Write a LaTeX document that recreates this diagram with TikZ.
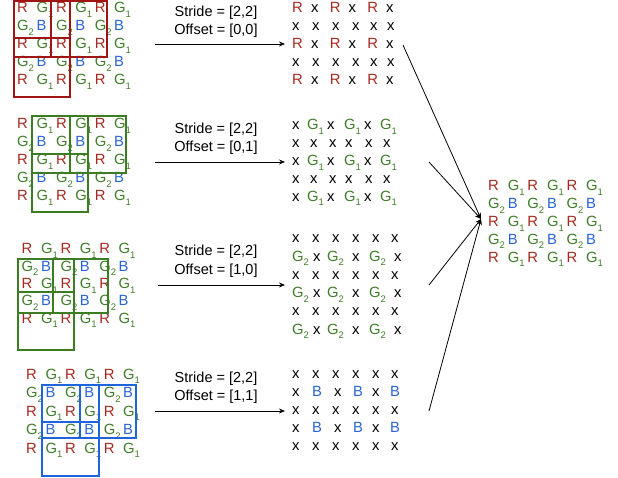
\documentclass[tikz,border=0pt]{standalone}
\usepackage{fontspec}
\setmainfont{Liberation Sans}
\usetikzlibrary{arrows.meta}
\definecolor{rl}{RGB}{166,40,30}
\definecolor{gl}{RGB}{62,125,40}
\definecolor{bl}{RGB}{40,100,215}
\definecolor{rbx}{RGB}{160,20,20}
\definecolor{gbx}{RGB}{60,125,35}
\definecolor{bbx}{RGB}{30,100,220}
\newcommand\lsub[1]{\raisebox{-4.5pt}{\fontsize{9.5}{9.5}\selectfont #1}}
\newcommand\gone{G\lsub{1}}
\newcommand\gtwo{G\lsub{2}}
\tikzset{
  cell/.style={inner sep=0pt, anchor=base west, font=\fontsize{14.8}{14.8}\selectfont},
  rc/.style={cell, text=rl},
  gc/.style={cell, text=gl},
  bc/.style={cell, text=bl},
  xc/.style={cell, text=black},
  lbl/.style={inner sep=0pt, anchor=base, font=\fontsize{14.5}{14.5}\selectfont},
  winbox/.style={line width=1.6pt},
  arr/.style={line width=0.8pt, -{Stealth[length=6pt,width=5pt]}},
}
% Bayer panel: #1 name, #2 x0, #3 y0, #4 dx, #5 dy
\newcommand\bayerpanel[5]{%
  \foreach \r in {0,2,4}{%
    \foreach \c/\s/\t in {0/rc/R,1/gc/\gone,2/rc/R,3/gc/\gone,4/rc/R,5/gc/\gone}{%
      \node[\s] (#1-\r-\c) at ({#2+\c*#4},{#3+\r*#5}) {\t};}}%
  \foreach \r in {1,3}{%
    \foreach \c/\s/\t in {0/gc/\gtwo,1/bc/B,2/gc/\gtwo,3/bc/B,4/gc/\gtwo,5/bc/B}{%
      \node[\s] (#1-\r-\c) at ({#2+\c*#4},{#3+\r*#5}) {\t};}}%
}
\begin{document}
\begin{tikzpicture}[x=1pt,y=-1pt]
\useasboundingbox (0,0) rectangle (618,478);

% ---------- input panels ----------
\bayerpanel{pa}{17}{13}{19.4}{18}
\draw[winbox, rbx] (14,1) rectangle (70,57);
\draw[winbox, rbx] (51,1) rectangle (107,57);
\draw[winbox, rbx] (14,38) rectangle (70,97);

\bayerpanel{pb}{17}{129}{19.4}{18}
\draw[winbox, gbx] (32,116) rectangle (88,173);
\draw[winbox, gbx] (70,116) rectangle (126,173);
\draw[winbox, gbx] (32,154) rectangle (88,212);

\bayerpanel{pc}{21.5}{254}{19.4}{17.3}
\draw[winbox, gbx] (18,259) rectangle (74,313);
\draw[winbox, gbx] (53,259) rectangle (108,313);
\draw[winbox, gbx] (18,292) rectangle (74,350);

\bayerpanel{pd}{26}{379}{19.4}{18.5}
\draw[winbox, bbx] (42,385) rectangle (99,438);
\draw[winbox, bbx] (80,385) rectangle (136,438);
\draw[winbox, bbx] (42,422) rectangle (99,476);

% ---------- labels ----------
\node[lbl] (sa) at (216,17) {Stride = [2,2]};
\node[lbl] (oa) at (216,35) {Offset = [0,0]};
\node[lbl] (sb) at (216,134) {Stride = [2,2]};
\node[lbl] (ob) at (216,152) {Offset = [0,1]};
\node[lbl] (sc) at (216,256) {Stride = [2,2]};
\node[lbl] (oc) at (216,274) {Offset = [1,0]};
\node[lbl] (sd) at (216,382) {Stride = [2,2]};
\node[lbl] (od) at (216,400) {Offset = [1,1]};

% ---------- output panel 1 ----------
\foreach \r in {0,2,4}{%
  \foreach \c/\s/\t in {0/rc/R,1/xc/x,2/rc/R,3/xc/x,4/rc/R,5/xc/x}{%
    \node[\s] (qa-\r-\c) at ({292+\c*18.8},{13+\r*17.8}) {\t};}}
\foreach \r in {1,3}{%
  \foreach \c/\xx in {0/292,1/312,2/332,3/352,4/370,5/387}{%
    \node[xc] (qa-\r-\c) at (\xx,{13+\r*17.8}) {x};}}

% ---------- output panel 2 ----------
\foreach \r in {0,2,4}{%
  \foreach \c/\xx/\s/\t in {0/292/xc/x,1/307/gc/\gone,2/327/xc/x,3/344/gc/\gone,4/364/xc/x,5/380/gc/\gone}{%
    \node[\s] (qb-\r-\c) at (\xx,{130+\r*17.8}) {\t};}}
\foreach \r in {1,3}{%
  \foreach \c/\xx in {0/292,1/310,2/329,3/345,4/365,5/383}{%
    \node[xc] (qb-\r-\c) at (\xx,{130+\r*17.8}) {x};}}

% ---------- output panel 3 ----------
\foreach \r in {0,2,4}{%
  \foreach \c/\xx in {0/292,1/312,2/332,3/352,4/372,5/391}{%
    \node[xc] (qc-\r-\c) at (\xx,{243+\r*18.2}) {x};}}
\foreach \r in {1,3,5}{%
  \foreach \c/\xx/\s/\t in {0/292/gc/\gtwo,1/313/xc/x,2/327/gc/\gtwo,3/352/xc/x,4/369/gc/\gtwo,5/394/xc/x}{%
    \node[\s] (qc-\r-\c) at (\xx,{243+\r*18.2}) {\t};}}

% ---------- output panel 4 ----------
\foreach \r in {0,2,4}{%
  \foreach \c/\xx in {0/292,1/312,2/332,3/352,4/372,5/391}{%
    \node[xc] (qd-\r-\c) at (\xx,{378+\r*18.2}) {x};}}
\foreach \r in {1,3}{%
  \foreach \c/\xx/\s/\t in {0/292/xc/x,1/312/bc/B,2/334/xc/x,3/353/bc/B,4/372/xc/x,5/390/bc/B}{%
    \node[\s] (qd-\r-\c) at (\xx,{378+\r*18.2}) {\t};}}

% ---------- final panel ----------
\bayerpanel{pf}{488}{191}{19.6}{17.8}

% ---------- arrows ----------
\coordinate (la1) at (155,44);  \coordinate (ra1) at (285,44);
\coordinate (la2) at (155,162); \coordinate (ra2) at (285,162);
\coordinate (la3) at (158,285); \coordinate (ra3) at (285,285);
\coordinate (la4) at (155,411); \coordinate (ra4) at (285,411);
\draw[arr] (la1) -- (ra1);
\draw[arr] (la2) -- (ra2);
\draw[arr] (la3) -- (ra3);
\draw[arr] (la4) -- (ra4);

\coordinate (conv) at (481,219);
\coordinate (c1) at (403,45);
\coordinate (c2) at (429,162);
\coordinate (c3) at (429,285);
\coordinate (c4) at (429,411);
\draw[arr] (c1) -- (conv);
\draw[arr] (c2) -- (conv);
\draw[arr] (c3) -- (conv);
\draw[arr] (c4) -- (conv);
\end{tikzpicture}
\end{document}
